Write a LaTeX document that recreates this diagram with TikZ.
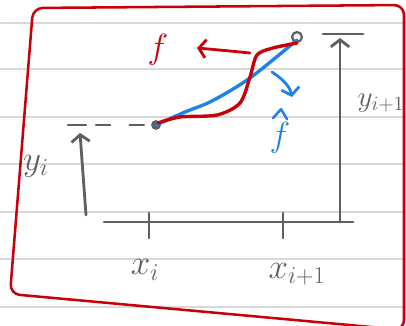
\documentclass[tikz,border=0pt]{standalone}
\usepackage{xcolor}
\usepackage{tikz}
\usetikzlibrary{positioning,arrows.meta}

\definecolor{pen}{HTML}{5F5F5F}
\definecolor{redpen}{HTML}{C8000A}
\definecolor{bluepen}{HTML}{1E82E6}
\definecolor{paperline}{HTML}{D9D9D9}

\begin{document}
\begin{tikzpicture}[
  x=0.025cm, y=-0.025cm,
  ruling/.style={paperline, line width=1.1pt},
  frame/.style={redpen, line width=1.8pt, rounded corners=7pt},
  axis/.style={pen, line width=2pt, line cap=round},
  arrow/.style={-{Straight Barb[length=5pt, width=13pt]}, line width=2pt, line cap=round},
  dot/.style={circle, fill=pen, inner sep=0pt, minimum size=7pt},
  ring/.style={circle, draw=pen, line width=1.6pt, inner sep=0pt, minimum size=7pt},
  lab/.style={text=pen, font=\fontsize{24}{24}\selectfont, inner sep=0pt},
  curvelab/.style={font=\fontsize{26}{26}\selectfont, inner sep=0pt}
]
  \useasboundingbox (0,0) rectangle (406,326);

  % paper rulings
  \foreach \yy in {23,69,117,164,212,259,307}
    \draw[ruling] (0,\yy) -- (406,\yy);

  % red frame
  \draw[frame] (33,8) -- (404,5) -- (404,330) -- (10,294) -- cycle;

  % axis and ticks
  \draw[axis] (104,222) -- (353,222);
  \draw[axis] (149,213) -- (149,238);
  \draw[axis] (283,213) -- (283,238);

  % data points
  \node[dot] (pi) at (156,125) {};
  \node[ring] (pj) at (297,37) {};

  % height arrows
  \coordinate (yibase) at (86,215);
  \coordinate (yitop) at (80,133);
  \coordinate (yjbase) at (340,222);
  \coordinate (yjtop) at (340,38);
  \draw[arrow, pen] (yibase) -- (yitop);
  \draw[arrow, pen] (yjbase) -- (yjtop);
  \draw[axis] (68,125) -- (86,125);
  \draw[axis] (323,34) -- (363,34);
  \draw[axis, dash pattern=on 10pt off 14pt] (96,125) -- (pi);

  % interpolant and true curve
  \draw[bluepen, line width=2.4pt, line cap=round]
    plot[smooth] coordinates {(pi.center) (185,112) (212,101) (250,78) (297,40)};
  \draw[redpen, line width=2.4pt, line cap=round]
    plot[smooth] coordinates {(158,123) (180,117) (217,115) (240,103) (250,77) (257,55) (273,48) (297,43)};

  % labels with arrows
  \node[curvelab, text=redpen] (flab) at (158,50) {$f$};
  \coordinate (rtail) at (250,53);
  \coordinate (rhead) at (197,48);
  \draw[arrow, redpen] (rtail) .. controls (230,51) .. (rhead);

  \node[curvelab, text=bluepen] (fhat) at (280,138) {$f$};
  \draw[bluepen, line width=1.8pt, line cap=round, line join=round]
    ([shift={(-7,-4)}]fhat.north) -- ([shift={(1,-13)}]fhat.north) -- ([shift={(7,-3)}]fhat.north);
  \coordinate (btail) at (272,72);
  \coordinate (bhead) at (292,97);
  \draw[arrow, bluepen] (btail) .. controls (284,80) and (290,87) .. (bhead);

  % axis labels
  \node[lab] (yi) at (36,166) {$y_i$};
  \node[lab, font=\fontsize{22}{22}\selectfont] (yj) at (381,103) {$y_{i+1}$};
  \node[lab] (xi) at (145,270) {$x_i$};
  \node[lab] (xj) at (297,274) {$x_{i+1}$};
\end{tikzpicture}
\end{document}
